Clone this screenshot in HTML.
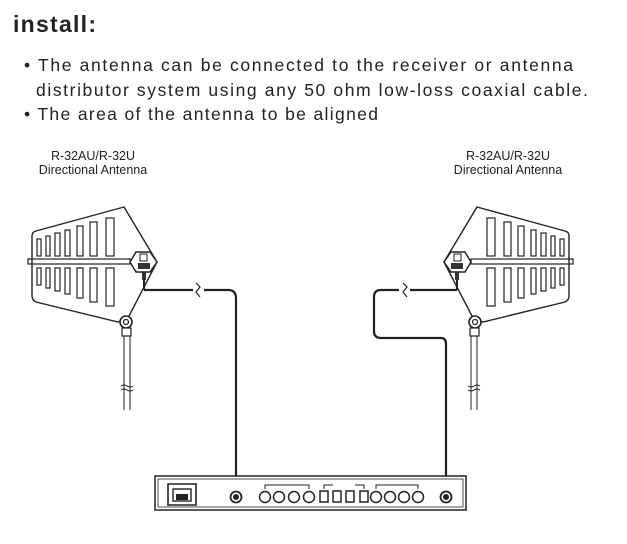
<!DOCTYPE html>
<html><head><meta charset="utf-8"><style>
html,body{margin:0;padding:0;background:#fff;width:627px;height:544px;overflow:hidden}
svg{display:block}
</style></head><body>
<svg width="627" height="544" viewBox="0 0 627 544" xmlns="http://www.w3.org/2000/svg" font-family="Liberation Sans, sans-serif">
<text x="13" y="32" font-size="23" font-weight="bold" fill="#222" textLength="83">install:</text>
<text x="24" y="71" font-size="17.5" fill="#222" textLength="549">• The antenna can be connected to the receiver or antenna</text>
<text x="36" y="96" font-size="17.5" fill="#222" textLength="552">distributor system using any 50 ohm low-loss coaxial cable.</text>
<text x="24" y="120" font-size="17.5" fill="#222" textLength="354">• The area of the antenna to be aligned</text>
<text x="93" y="160" font-size="12.5" fill="#222" text-anchor="middle">R-32AU/R-32U</text>
<text x="93" y="174" font-size="12.5" fill="#222" text-anchor="middle">Directional Antenna</text>
<text x="508" y="160" font-size="12.5" fill="#222" text-anchor="middle">R-32AU/R-32U</text>
<text x="508" y="174" font-size="12.5" fill="#222" text-anchor="middle">Directional Antenna</text>
<defs>
<g id="ant" fill="none" stroke="#222">
<path d="M124,207 L36,231 Q32,232 32,236 L32,296 Q32,300 36,302 L118,322 L128,318 L157,262 Z" stroke-width="1.4" fill="#fff"/>
<rect x="28" y="259" width="102" height="5" stroke-width="1.2"/>
<g stroke-width="1.2">
<rect x="37" y="239" width="4" height="17"/><rect x="46" y="236" width="4" height="20"/><rect x="55" y="233" width="5" height="23"/>
<rect x="65" y="230" width="5" height="26"/><rect x="77" y="226" width="6" height="30"/><rect x="90" y="222" width="7" height="34"/><rect x="106" y="218" width="8" height="38"/>
<rect x="37" y="268" width="4" height="17"/><rect x="46" y="268" width="4" height="20"/><rect x="55" y="268" width="5" height="23"/>
<rect x="65" y="268" width="5" height="26"/><rect x="77" y="268" width="6" height="30"/><rect x="90" y="268" width="7" height="34"/><rect x="106" y="268" width="8" height="38"/>
</g>
<polygon points="136,252 150,252 157,262 150,272 136,272 130,262" stroke-width="1.5" fill="#fff"/>
<rect x="140" y="254" width="7" height="7" stroke-width="1"/>
<rect x="138" y="263" width="12" height="6" fill="#333" stroke="none"/>
<rect x="142" y="272" width="4" height="8" fill="#333" stroke="none"/>
<line x1="144" y1="280" x2="144" y2="290" stroke-width="2"/>
<circle cx="126" cy="322" r="6" stroke-width="1.6" fill="#fff"/>
<circle cx="126" cy="322" r="2.5" stroke-width="1.2"/>
<rect x="122" y="328" width="9" height="8" stroke-width="1.2" fill="#fff"/>
<line x1="124" y1="336" x2="124" y2="410" stroke-width="1"/>
<line x1="130" y1="336" x2="130" y2="410" stroke-width="1"/>
<path d="M121,386 q3,-2 6,0 t6,0 M121,390 q3,-2 6,0 t6,0" stroke-width="1"/>
</g>
</defs>
<use href="#ant"/>
<use href="#ant" transform="translate(601,0) scale(-1,1)"/>
<g fill="none" stroke="#222" stroke-width="2.2">
<path d="M144,290 H193 M204,290 H228 Q236,290 236,298 V485"/>
<path d="M196,283 L200,287 L196,292 L200,297" stroke-width="1.2"/>
<path d="M457,290 H410 M399,290 H381 Q374,290 374,297 V331 Q374,338 381,338 H441 Q446,338 446,344 V485"/>
<path d="M403,283 L407,287 L403,292 L407,297" stroke-width="1.2"/>
</g>
<g fill="none" stroke="#222">
<rect x="155" y="476" width="311" height="34" stroke-width="1.5" fill="#fff"/>
<rect x="158" y="479" width="305" height="28" stroke-width="0.8"/>
<path d="M168,484 H196 V505 H168 Z" stroke-width="1.6"/>
<rect x="173" y="489" width="18" height="12" stroke-width="1.4"/>
<rect x="176" y="494" width="12" height="6" fill="#222" stroke="none"/>
<circle cx="236" cy="497" r="5.5" stroke-width="1.8"/><circle cx="236" cy="497" r="2.5" fill="#222"/>
<circle cx="446" cy="497" r="5.5" stroke-width="1.8"/><circle cx="446" cy="497" r="2.5" fill="#222"/>
<g stroke-width="1.5">
<circle cx="265" cy="497" r="5.5"/><circle cx="279" cy="497" r="5.5"/><circle cx="294" cy="497" r="5.5"/><circle cx="309" cy="497" r="5.5"/>
<rect x="320" y="491" width="8" height="11"/><rect x="333" y="491" width="8" height="11"/><rect x="346" y="491" width="8" height="11"/><rect x="360" y="491" width="8" height="11"/>
<circle cx="376" cy="497" r="5.5"/><circle cx="390" cy="497" r="5.5"/><circle cx="404" cy="497" r="5.5"/><circle cx="418" cy="497" r="5.5"/>
</g>
<path d="M265,489 V485 H309 V489 M324,489 V485 H333 M355,485 H364 V489 M376,489 V485 H418 V489" stroke-width="1"/>
</g>
</svg>
</body></html>
